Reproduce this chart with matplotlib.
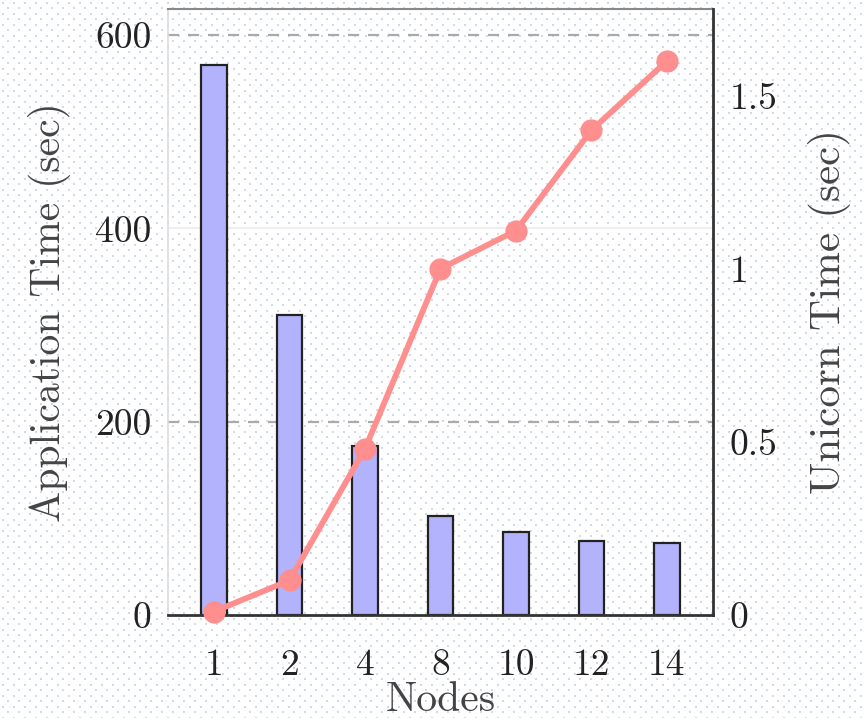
import numpy as np
import matplotlib
matplotlib.use("Agg")
import matplotlib.pyplot as plt

plt.rcParams["font.family"] = ["cmr10", "DejaVu Serif"]
plt.rcParams["axes.unicode_minus"] = False
plt.rcParams["mathtext.fontset"] = "cm"

nodes = ["1", "2", "4", "8", "10", "12", "14"]
app_time = [569, 310, 175, 102, 86, 77, 74]
unicorn_time = [0.01, 0.10, 0.48, 1.00, 1.11, 1.40, 1.60]
left_ticks = [0, 200, 400, 600]
left_tick_labels = ["0", "200", "400", "600"]
right_ticks = [0, 0.5, 1, 1.5]
right_tick_labels = ["0", "0.5", "1", "1.5"]

W, H = 864, 718
fig = plt.figure(figsize=(W / 100, H / 100), dpi=100)

# faint stippled paper texture
tex = np.zeros((H, W, 4))
tex[..., :3] = 1.0
tex[..., 3] = 0.0
for j, y in enumerate(np.arange(2, H, 5.5)):
    off = 0 if j % 2 == 0 else 5.5
    for x in np.arange(2 + off, W, 11):
        yi, xi = int(y), int(x)
        tex[yi:yi + 2, xi:xi + 2, :3] = [0.70, 0.77, 0.85]
        tex[yi:yi + 2, xi:xi + 2, 3] = 0.6
fig.figimage(tex, xo=0, yo=0, zorder=-10, origin="upper")

ax = fig.add_axes([168 / W, 1 - 615 / H, (713 - 168) / W, (615 - 9) / H])
ax.patch.set_visible(False)
x = np.arange(len(nodes))

ax.bar(x, app_time, width=0.34, color="#b3b3fd", edgecolor="#222222",
       linewidth=1.6, zorder=2)
ax.set_xlim(-0.61, len(nodes) - 1 + 0.61)
ax.set_ylim(0, 627)
ax.set_yticks(left_ticks)
ax.set_yticklabels(left_tick_labels)
ax.set_xticks(x)
ax.set_xticklabels(nodes)

ax.grid(axis="y", linestyle=(0, (5, 4)), color="#aaaaaa", linewidth=1.6, zorder=0)
gl = ax.get_ygridlines()
gl[0].set_visible(False)
gl[2].set_color("#eeeeee")
gl[2].set_linestyle("-")

ax.tick_params(axis="both", length=0, labelsize=27, colors="#222222")
ax.tick_params(axis="y", pad=12)
ax.tick_params(axis="x", pad=24)
ax.set_ylabel("Application Time (sec)", fontsize=30, color="#444444", labelpad=17)
ax.set_xlabel("Nodes", fontsize=30, color="#444444", labelpad=0)

ax.spines["left"].set_color("#dddddd")
ax.spines["left"].set_linewidth(1.2)
ax.spines["top"].set_color("#888888")
ax.spines["top"].set_linewidth(1.5)
ax.spines["bottom"].set_color("#333333")
ax.spines["bottom"].set_linewidth(2)
ax.spines["right"].set_visible(False)

ax2 = ax.twinx()
ax2.patch.set_visible(False)
ax2.plot(x, unicorn_time, color="#ff8e8e", linewidth=4.2, marker="o",
         markersize=15, zorder=3, clip_on=False)
ax2.set_ylim(0, 1.75)
ax2.set_yticks(right_ticks)
ax2.set_yticklabels(right_tick_labels)
ax2.tick_params(axis="y", length=0, labelsize=27, colors="#222222", pad=12)
ax2.set_ylabel("Unicorn Time (sec)", fontsize=31, color="#444444",
               rotation=90, labelpad=22)
ax2.spines["right"].set_color("#333333")
ax2.spines["right"].set_linewidth(2)
for s in ["left", "top", "bottom"]:
    ax2.spines[s].set_visible(False)

fig.savefig("out.png", dpi=100)
